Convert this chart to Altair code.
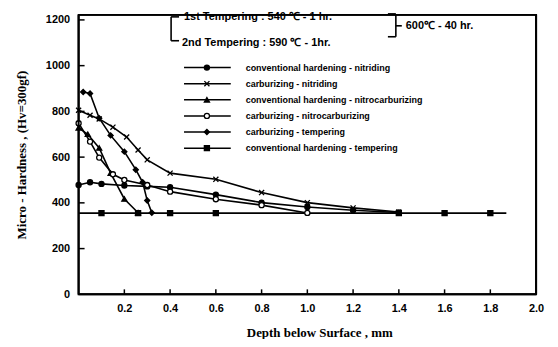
import altair as alt
import pandas as pd

# ---------------- data ----------------
SERIES = [
    "conventional hardening - nitriding",
    "carburizing - nitriding",
    "conventional hardening - nitrocarburizing",
    "carburizing - nitrocarburizing",
    "carburizing - tempering",
    "conventional hardening - tempering",
]

CHN_X = [0.0, 0.05, 0.1, 0.2, 0.3, 0.4, 0.6, 0.8, 1.0, 1.2, 1.4]
CHN_Y = [478, 490, 483, 476, 472, 468, 436, 401, 382, 368, 358]

CN_X = [0.0, 0.05, 0.09, 0.15, 0.21, 0.26, 0.3, 0.4, 0.6, 0.8, 1.0, 1.2, 1.4]
CN_Y = [805, 783, 767, 731, 688, 631, 588, 530, 503, 445, 401, 378, 360]

CHNC_X = [0.0, 0.04, 0.09, 0.14, 0.2, 0.26]
CHNC_Y = [728, 700, 640, 530, 417, 357]

CNC_X = [0.0, 0.05, 0.09, 0.15, 0.2, 0.3, 0.4, 0.6, 0.8, 1.0]
CNC_Y = [748, 668, 598, 525, 500, 478, 449, 416, 390, 356]

CT_X = [0.02, 0.05, 0.09, 0.14, 0.2, 0.25, 0.28, 0.3, 0.32]
CT_Y = [885, 878, 770, 695, 624, 545, 490, 410, 357]

CHT_X = [0.0, 0.1, 0.26, 0.4, 0.6, 1.4, 1.6, 1.8, 1.87]
CHT_Y = [355, 355, 355, 355, 355, 355, 355, 355, 355]
CHT_MK = [0, 1, 1, 1, 1, 1, 1, 1, 0]

X_TICKS = [0.2, 0.4, 0.6, 0.8, 1.0, 1.2, 1.4, 1.6, 1.8, 2.0]
Y_TICKS = [0, 200, 400, 600, 800, 1000, 1200]
X_MAX = 2.0
Y_MAX = 1222

SHAPES = ["circle", "M-1,-1L1,1M-1,1L1,-1", "triangle-up", "circle", "diamond", "square"]
FILLS = ["black", "black", "black", "white", "black", "black"]

rows = []
for name, xs_, ys_, mk in [
    (SERIES[0], CHN_X, CHN_Y, None),
    (SERIES[1], CN_X, CN_Y, None),
    (SERIES[2], CHNC_X, CHNC_Y, None),
    (SERIES[3], CNC_X, CNC_Y, None),
    (SERIES[4], CT_X, CT_Y, None),
    (SERIES[5], CHT_X, CHT_Y, CHT_MK),
]:
    mk = mk or [1] * len(xs_)
    for a, b, m in zip(xs_, ys_, mk):
        rows.append({"series": name, "depth": a, "hv": b, "mk": m})
df = pd.DataFrame(rows)

# ---------------- layout ----------------
W, H = 460, 281
TOP = 6
xscale = alt.Scale(domain=[0, X_MAX], nice=False, zero=False)
yscale = alt.Scale(domain=[0, Y_MAX], nice=False)
shape_scale = alt.Scale(domain=SERIES, range=SHAPES)
fill_scale = alt.Scale(domain=SERIES, range=FILLS)

SANS = "Liberation Sans"
SERIF = "Liberation Serif"

x_axis = alt.Axis(
    values=X_TICKS, format=".1f", ticks=False, domain=False, grid=False,
    labelFont=SANS, labelFontWeight="bold", labelFontSize=11, labelColor="black",
    labelPadding=8, labelFlush=False,
    title="Depth below Surface , mm", titleFont=SERIF, titleFontSize=13,
    titleFontWeight="bold", titleColor="black", titleX=242, titleY=38,
    titleBaseline="middle", titleAlign="center",
)
y_axis = alt.Axis(
    values=Y_TICKS, format="d", ticks=False, domain=False, grid=False,
    labelFont=SANS, labelFontWeight="bold", labelFontSize=11, labelColor="black",
    labelPadding=9, labelFlush=False,
    title="Micro - Hardness , (Hv=300gf)", titleFont=SERIF, titleFontSize=13,
    titleFontWeight="bold", titleColor="black", titleX=-57, titleY=H / 2,
    titleAngle=270, titleBaseline="middle", titleAlign="center",
)

dummy = pd.DataFrame({"a": [0]})

lines = alt.Chart(df).mark_line(color="black", strokeWidth=1.6).encode(
    x=alt.X("depth:Q", scale=xscale, axis=x_axis),
    y=alt.Y("hv:Q", scale=yscale, axis=y_axis),
    detail="series:N",
)
points = alt.Chart(df).transform_filter("datum.mk == 1").mark_point(
    filled=True, stroke="black", strokeWidth=1.3, size=26, opacity=1
).encode(
    x=alt.X("depth:Q", scale=xscale),
    y=alt.Y("hv:Q", scale=yscale),
    shape=alt.Shape("series:N", scale=shape_scale, legend=None),
    fill=alt.Fill("series:N", scale=fill_scale, legend=None),
)

ytick_df = pd.DataFrame({"hv": Y_TICKS[1:]})
yticks = alt.Chart(ytick_df).mark_rule(color="black", strokeWidth=1.5).encode(
    y=alt.Y("hv:Q", scale=yscale), x=alt.value(0), x2=alt.value(6)
)
xtick_df = pd.DataFrame({"depth": X_TICKS[:-1]})
xticks = alt.Chart(xtick_df).mark_rule(color="black", strokeWidth=1.5).encode(
    x=alt.X("depth:Q", scale=xscale), y=alt.value(H), y2=alt.value(H - 5)
)

main = alt.layer(lines, points, yticks, xticks)

# ---------------- legend ----------------
leg_df = pd.DataFrame({"series": SERIES, "row": list(range(len(SERIES)))})
leg_y = alt.Y("row:Q", scale=alt.Scale(domain=[0, 5], range=[59 - TOP, 140 - TOP]), axis=None)
leg_rule = alt.Chart(leg_df).mark_rule(color="black", strokeWidth=1.5).encode(
    x=alt.value(106), x2=alt.value(153), y=leg_y
)
leg_pts = alt.Chart(leg_df).mark_point(
    filled=True, stroke="black", strokeWidth=1.3, size=26, opacity=1
).encode(
    x=alt.value(129), y=leg_y,
    shape=alt.Shape("series:N", scale=shape_scale, legend=None),
    fill=alt.Fill("series:N", scale=fill_scale, legend=None),
)
leg_txt = alt.Chart(leg_df).mark_text(
    align="left", baseline="middle", font=SANS, fontSize=9, fontWeight="bold", color="black"
).encode(x=alt.value(168), y=leg_y, text="series:N")
legend = alt.layer(leg_rule, leg_pts, leg_txt)

# ---------------- header annotation and frame ----------------


def txt(s, x, y, size=11):
    return alt.Chart(dummy).mark_text(
        text=s, align="left", baseline="middle", font=SANS, fontSize=size,
        fontWeight="bold", color="black"
    ).encode(x=alt.value(x), y=alt.value(y - TOP))


def seg(x1, y1, x2, y2, w=1.6):
    return alt.Chart(dummy).mark_rule(color="black", strokeWidth=w).encode(
        x=alt.value(x1), x2=alt.value(x2), y=alt.value(y1 - TOP), y2=alt.value(y2 - TOP)
    )


annots = [
    # plot frame
    seg(0, TOP, W, TOP, 2), seg(W, TOP, W, H + TOP, 2),
    seg(0, TOP, 0, H + TOP, 2), seg(0, H + TOP, W, H + TOP, 2),
    txt("1st Tempering : 540  ℃  - 1 hr.", 106, 8),
    txt("2nd Tempering : 590  ℃  - 1hr.", 104, 34),
    txt("600℃ - 40 hr.", 329, 17),
    seg(93, 8, 93, 32), seg(93, 8, 101, 8), seg(93, 32, 101, 32),
    seg(319, 5, 319, 28), seg(311, 5, 319, 5), seg(311, 28, 319, 28),
    seg(319, 17, 325, 17),
]

chart = alt.layer(main, legend, *annots).resolve_scale(y="independent").properties(
    width=W, height=H,
    autosize=alt.AutoSizeParams(type="none"),
    padding={"left": 71, "top": TOP, "right": 14, "bottom": 44},
).configure(
    background="white",
    view=alt.ViewConfig(stroke="black", strokeWidth=2),
)

chart.save("out.html", embed_options={"renderer": "svg", "actions": False})
